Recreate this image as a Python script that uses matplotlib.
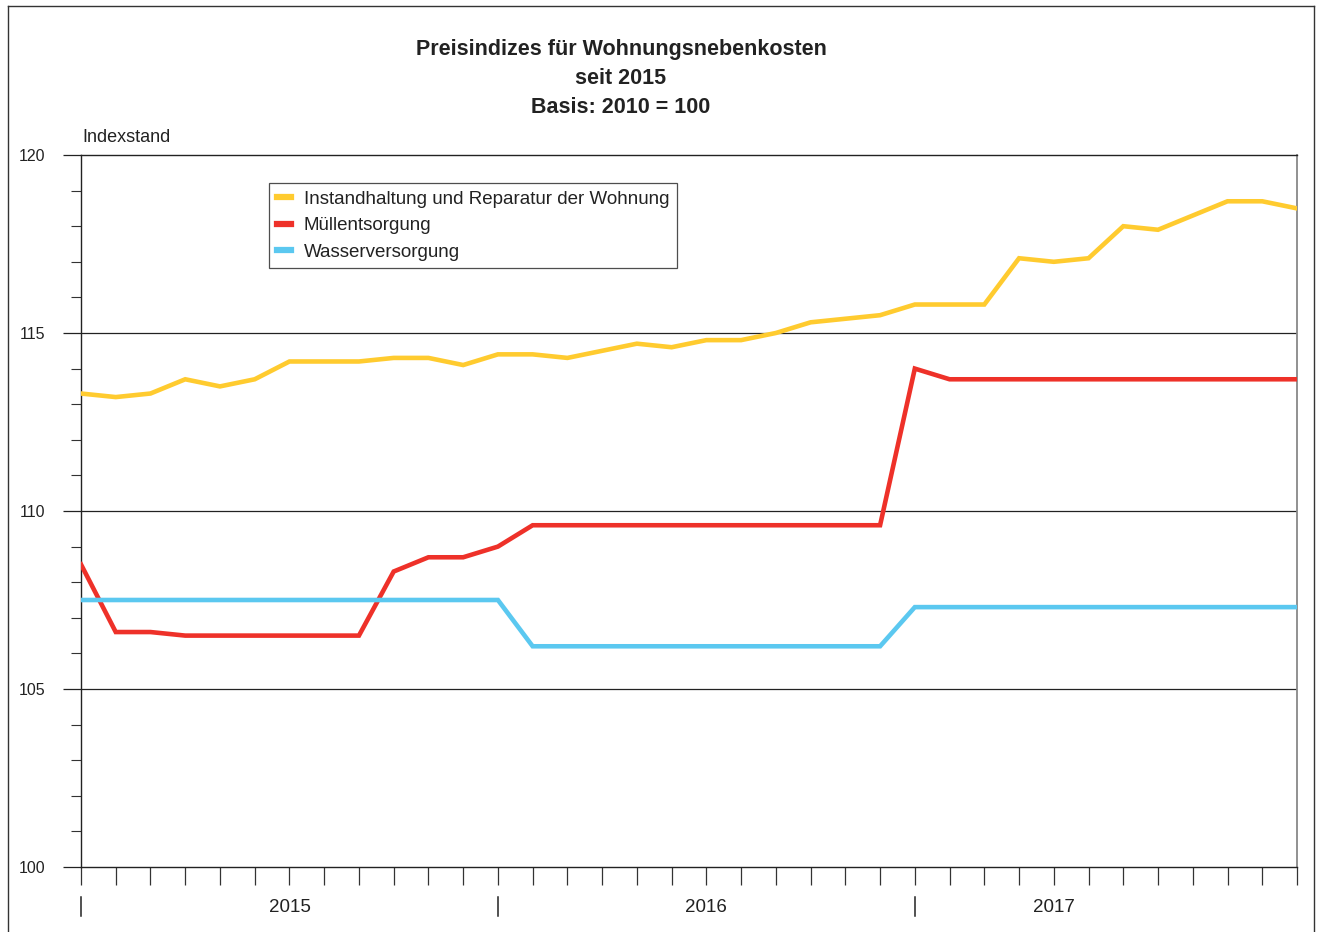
import matplotlib
matplotlib.use("Agg")
import matplotlib.pyplot as plt
import matplotlib.transforms as mtransforms
from matplotlib.lines import Line2D

plt.rcParams['font.family'] = ['Liberation Sans', 'DejaVu Sans']

months = list(range(36))  # Jan 2015 .. Dec 2017
years = ["2015", "2016", "2017"]

instandhaltung = [113.3, 113.2, 113.3, 113.7, 113.5, 113.7, 114.2, 114.2, 114.2, 114.3, 114.3, 114.1,
                  114.4, 114.4, 114.3, 114.5, 114.7, 114.6, 114.8, 114.8, 115.0, 115.3, 115.4, 115.5,
                  115.8, 115.8, 115.8, 117.1, 117.0, 117.1, 118.0, 117.9, 118.3, 118.7, 118.7, 118.5]
muell = [108.5, 106.6, 106.6, 106.5, 106.5, 106.5, 106.5, 106.5, 106.5, 108.3, 108.7, 108.7,
         109.0, 109.6, 109.6, 109.6, 109.6, 109.6, 109.6, 109.6, 109.6, 109.6, 109.6, 109.6,
         114.0, 113.7, 113.7, 113.7, 113.7, 113.7, 113.7, 113.7, 113.7, 113.7, 113.7, 113.7]
wasser = [107.5, 107.5, 107.5, 107.5, 107.5, 107.5, 107.5, 107.5, 107.5, 107.5, 107.5, 107.5,
          107.5, 106.2, 106.2, 106.2, 106.2, 106.2, 106.2, 106.2, 106.2, 106.2, 106.2, 106.2,
          107.3, 107.3, 107.3, 107.3, 107.3, 107.3, 107.3, 107.3, 107.3, 107.3, 107.3, 107.3]

labels = ["Instandhaltung und Reparatur der Wohnung", "Müllentsorgung", "Wasserversorgung"]
colors = ["#FFCB2F", "#EE3129", "#5BC8F0"]

W, H = 1319, 932
fig = plt.figure(figsize=(W / 100, H / 100), dpi=100)
ax = fig.add_axes([81 / W, 1 - 867 / H, (1297 - 81) / W, (867 - 155) / H])

for series, lab, col in zip([instandhaltung, muell, wasser], labels, colors):
    ax.plot(months, series, color=col, lw=3.3, label=lab, solid_joinstyle='miter', zorder=3)

ax.set_xlim(0, 35)
ax.set_ylim(100, 120)

# grid lines
for yv in [105, 110, 115]:
    ax.axhline(yv, color='#222222', lw=0.9, zorder=1)

ax.set_yticks([100, 105, 110, 115, 120])
ax.set_yticks([v for v in range(100, 121) if v % 5], minor=True)
ax.tick_params(axis='y', which='major', direction='out', length=13, width=0.9, pad=12.5,
               labelsize=11.5, colors='#222222')
ax.tick_params(axis='y', which='minor', direction='out', length=7, width=0.8, colors='#333333')
ax.set_xticks(months)
ax.tick_params(axis='x', which='major', direction='out', length=13, width=0.9,
               labelbottom=False, colors='#333333')

for s in ['left', 'bottom', 'top']:
    ax.spines[s].set_linewidth(1.0)
    ax.spines[s].set_color('#222222')
ax.spines['right'].set_color('#888888')
ax.spines['right'].set_linewidth(1.3)

# year separators and labels
trans = mtransforms.blended_transform_factory(ax.transData, ax.transAxes)
sep_y0 = -(916 - 867) / 712
sep_y1 = -(897 - 867) / 712
label_offsets = [6, 6, 4]
for i, yr in enumerate(years):
    x0 = i * 12
    ax.plot([x0, x0], [sep_y0, sep_y1], color='#222222', lw=1.1, transform=trans, clip_on=False)
    ax.text(x0 + label_offsets[i], -(908 - 867) / 712, yr, transform=trans,
            ha='center', va='center', fontsize=13.5, color='#222222')

ax.text(0.001, (867 - 137) / 712, "Indexstand", transform=ax.transAxes, ha='left', va='center',
        fontsize=13, color='#222222')

fig.text(621 / W, 1 - 78.5 / H, "Preisindizes für Wohnungsnebenkosten\nseit 2015\nBasis: 2010 = 100",
         ha='center', va='center', fontsize=15.5, fontweight='bold', linespacing=1.5,
         color='#222222')

leg = ax.legend(loc='upper left', bbox_to_anchor=((269 - 81) / 1216, (867 - 183) / 712),
                borderaxespad=0, frameon=True, fancybox=False, fontsize=13.5,
                handlelength=0.75, handletextpad=0.7, labelspacing=0.5, borderpad=0.4)
leg.get_frame().set_edgecolor('#222222')
leg.get_frame().set_linewidth(0.9)
for h in leg.get_lines():
    h.set_linewidth(4.5)
for t in leg.get_texts():
    t.set_color('#222222')

# outer frame
fig.add_artist(Line2D([8 / W, 8 / W], [0, 1 - 6 / H], color='#333333', lw=1.0))
fig.add_artist(Line2D([1314 / W, 1314 / W], [0, 1 - 6 / H], color='#333333', lw=1.0))
fig.add_artist(Line2D([8 / W, 1314 / W], [1 - 6 / H, 1 - 6 / H], color='#333333', lw=1.0))

fig.savefig("out.png", dpi=100)
